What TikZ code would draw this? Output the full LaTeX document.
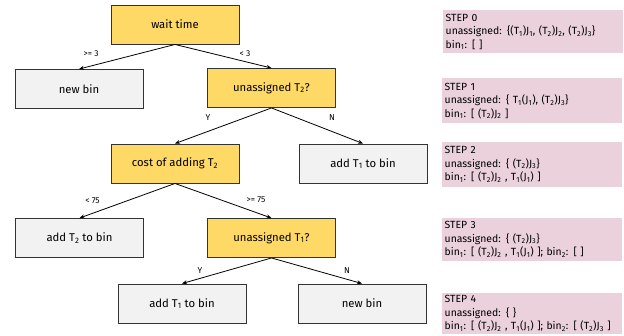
\documentclass[tikz,border=0pt]{standalone}
\usepackage{fontspec}
\setmainfont{Fira Sans}
\usetikzlibrary{arrows.meta}

\definecolor{condfill}{HTML}{FFD966}
\definecolor{leaffill}{HTML}{F2F2F2}
\definecolor{stepfill}{HTML}{EAD1DC}
\definecolor{boxline}{HTML}{333333}
\newcommand{\ix}[1]{\textsubscript{#1}}

\begin{document}
\begin{tikzpicture}[x=1pt,y=-1pt,
        cond/.style={draw=boxline,fill=condfill,line width=0.9pt,minimum width=128pt,minimum height=39pt,inner sep=0pt,font=\fontsize{11.3}{13}\selectfont},
        leaf/.style={cond,fill=leaffill},
        lbl/.style={inner sep=0pt,font=\fontsize{8.5}{10}\selectfont},
        stepbox/.style={fill=stepfill,anchor=north west,minimum width=180pt,text width=175pt,inner sep=2.5pt,align=left,font=\fontsize{10.4}{13.5}\selectfont},
        arr/.style={-{Stealth[length=5pt,width=4pt]},line width=0.8pt}]
        \useasboundingbox (0,0) rectangle (624,335);
        % decision tree
        \node[cond] (wait) at (175,24.5) {wait time};
        \node[leaf] (newbin) at (79,89) {new bin};
        \node[cond] (unT2) at (271.5,88) {unassigned T\ix{2}?};
        \node[cond] (cost) at (175,163.5) {cost of adding T\ix{2}};
        \node[leaf] (addT1a) at (363,163.5) {add T\ix{1} to bin};
        \node[leaf] (addT2) at (79.5,238) {add T\ix{2} to bin};
        \node[cond] (unT1) at (271.5,238) {unassigned T\ix{1}?};
        \node[leaf] (addT1b) at (182,303.5) {add T\ix{1} to bin};
        \node[leaf] (newbin2) at (362,303.5) {new bin};
        \draw[arr] (wait.south) -- (newbin.north);
        \draw[arr] (wait.south) -- (unT2.north);
        \draw[arr] (unT2.south) -- (cost.north);
        \draw[arr] (unT2.south) -- (addT1a.north);
        \draw[arr] (cost.south) -- (addT2.north);
        \draw[arr] (cost.south) -- (unT1.north);
        \draw[arr] (unT1.south) -- (addT1b.north);
        \draw[arr] (unT1.south) -- (newbin2.north);
        \node[lbl] (l1) at (91,54) {>= 3};
        \node[lbl] (l2) at (245,54) {< 3};
        \node[lbl] (l3) at (208,118) {Y};
        \node[lbl] (l4) at (332,118) {N};
        \node[lbl] (l5) at (92.5,200.5) {< 75};
        \node[lbl] (l6) at (256,200) {>= 75};
        \node[lbl] (l7) at (200,271) {Y};
        \node[lbl] (l8) at (347,271) {N};
        % steps
        \node[stepbox,minimum height=43pt] (step0) at (443,10) {STEP 0\\unassigned: {\{}(T\ix{1})J\ix{1}, (T\ix{2})J\ix{2}, (T\ix{2})J\ix{3}{\}}\\bin\ix{1}: [ ]};
        \node[stepbox,minimum height=45pt] (step1) at (442,78) {STEP 1\\unassigned: {\{} T\ix{1}(J\ix{1}), (T\ix{2})J\ix{3}{\}}\\bin\ix{1}: [ (T\ix{2})J\ix{2} ]};
        \node[stepbox,minimum height=45pt] (step2) at (442,142) {STEP 2\\unassigned: {\{} (T\ix{2})J\ix{3}{\}}\\bin\ix{1}: [ (T\ix{2})J\ix{2} , T\ix{1}(J\ix{1}) ]};
        \node[stepbox,minimum height=43pt] (step3) at (442,218) {STEP 3\\unassigned: {\{} (T\ix{2})J\ix{3}{\}}\\bin\ix{1}: [ (T\ix{2})J\ix{2} , T\ix{1}(J\ix{1}) ]; bin\ix{2}: [ ]};
        \node[stepbox,minimum height=41pt] (step4) at (442,293) {STEP 4\\unassigned: {\{} {\}}\\bin\ix{1}: [ (T\ix{2})J\ix{2} , T\ix{1}(J\ix{1}) ]; bin\ix{2}: [ (T\ix{2})J\ix{3} ]};
    \end{tikzpicture}
\end{document}
